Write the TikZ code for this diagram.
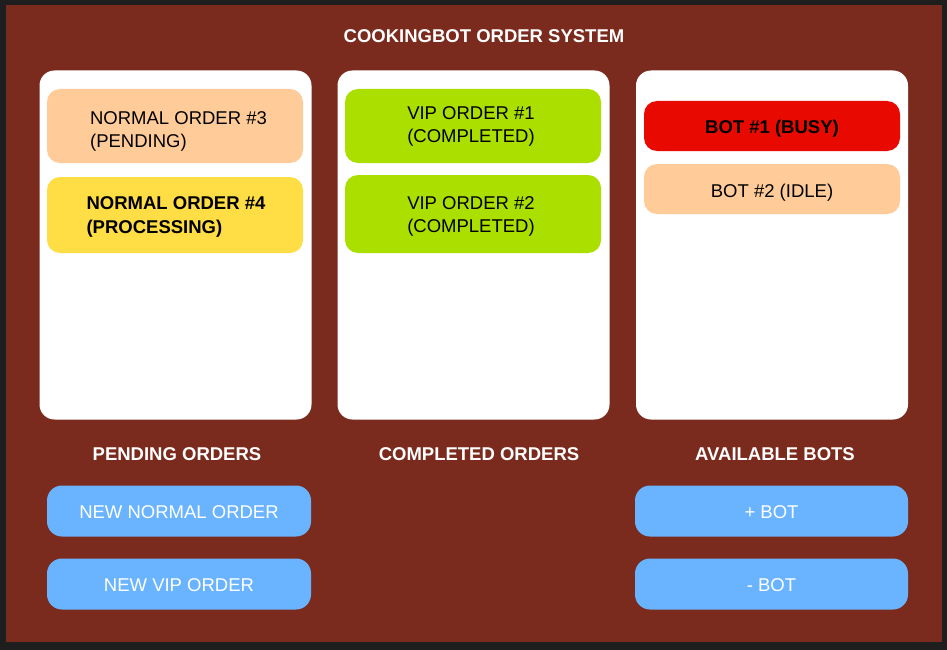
\documentclass[tikz,border=0pt]{standalone}
\usepackage{fontspec}
\setmainfont{Liberation Sans}

\definecolor{framebg}{HTML}{1E1E1E}
\definecolor{brownbg}{HTML}{7A2B1E}
\definecolor{peach}{HTML}{FFCC99}
\definecolor{sun}{HTML}{FFDD44}
\definecolor{lime}{HTML}{AADF00}
\definecolor{busyred}{HTML}{E80A00}
\definecolor{skyblue}{HTML}{6AB4FF}

\newcommand\uifont{\fontsize{18.5pt}{23.7pt}\selectfont}

\begin{document}
\begin{tikzpicture}[x=1pt,y=-1pt,font=\uifont]

        \fill[framebg] (0,0) rectangle (947,650);
        \fill[brownbg] (6,5) rectangle (941.5,641.5);

        \node[text=white, font=\uifont\bfseries, anchor=base] (title) at (484,43) {COOKINGBOT ORDER SYSTEM};

        \begin{scope}[every node/.style={fill=white, rounded corners=15pt, inner sep=0pt,
            minimum width=272pt, minimum height=349pt}]
          \node (pending)   at (175.5,245) {};
          \node (completed) at (473.5,245) {};
          \node (bots)      at (772,245)   {};
        \end{scope}

        \begin{scope}[every node/.style={rounded corners=13pt, inner sep=0pt, minimum width=256pt}]
          \node[fill=peach, minimum height=74pt] (n3) at (175,126) {};
          \node[fill=sun,   minimum height=76pt] (n4) at (175,215) {};
          \node[fill=lime,  minimum height=74pt] (v1) at (473,126) {};
          \node[fill=lime,  minimum height=78pt] (v2) at (473,214) {};
          \node[fill=busyred, minimum height=50pt, font=\uifont\bfseries,
            text height=16pt, text depth=0pt] (b1) at (772,126) {BOT \#1 (BUSY)};
          \node[fill=peach, minimum height=50pt,
            text height=16.3pt, text depth=0pt] (b2) at (772,189) {BOT \#2 (IDLE)};
        \end{scope}

        \begin{scope}[every node/.style={align=left, anchor=base, inner sep=0pt}]
          \node (n3txt) at (178.5,147.7) {NORMAL ORDER \#3\\(PENDING)};
          \node[font=\uifont\bfseries] (n4txt) at (176,233) {NORMAL ORDER \#4\\(PROCESSING)};
          \node (v1txt) at (471,142.7) {VIP ORDER \#1\\(COMPLETED)};
          \node (v2txt) at (471,232.7) {VIP ORDER \#2\\(COMPLETED)};
        \end{scope}

        \begin{scope}[every node/.style={text=white, font=\uifont\bfseries, anchor=base}]
          \node (lpending)   at (177,460) {PENDING ORDERS};
          \node (lcompleted) at (479,460) {COMPLETED ORDERS};
          \node (lbots)      at (775,460) {AVAILABLE BOTS};
        \end{scope}

        \begin{scope}[every node/.style={fill=skyblue, text=white, rounded corners=15pt,
            inner sep=0pt, minimum height=51pt, text height=14.8pt, text depth=0pt}]
          \node[minimum width=264pt] (newnormal) at (179,511)   {NEW NORMAL ORDER};
          \node[minimum width=264pt] (newvip)    at (179,584)   {NEW VIP ORDER};
          \node[minimum width=273pt] (addbot)    at (771.5,511) {+ BOT};
          \node[minimum width=273pt] (rmbot)     at (771.5,584) {- BOT};
        \end{scope}

      \end{tikzpicture}
\end{document}
